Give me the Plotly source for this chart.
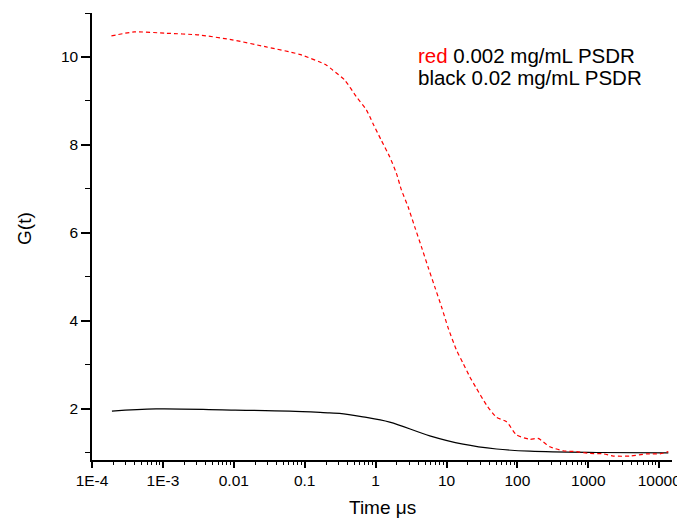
import plotly.graph_objects as go

# Red series: 0.002 mg/mL PSDR
red_t = [1.88e-4, 3.95e-4, 1.1e-3, 3.27e-3, 9.5e-3, 0.0286, 0.0845, 0.201, 0.249,
         0.365, 0.533, 0.74, 0.916, 1.2, 1.58, 1.96, 2.31, 2.86, 3.56, 4.42, 5.48,
         6.81, 8.47, 10.5, 13.8, 17.1, 21.3, 26.4, 36.6, 50.7, 70.2, 97.0, 150, 196,
         287, 442, 684, 1054, 1622, 2250, 3873, 6653, 10250, 13430]
red_g = [10.48, 10.57, 10.54, 10.50, 10.39, 10.23, 10.06, 9.82, 9.70,
         9.48, 9.10, 8.80, 8.49, 8.11, 7.73, 7.36, 6.98, 6.60, 6.14, 5.69, 5.23,
         4.78, 4.33, 3.85, 3.34, 3.04, 2.73, 2.47, 2.09, 1.81, 1.71, 1.41, 1.31, 1.33,
         1.14, 1.05, 1.03, 0.99, 0.98, 0.93, 0.93, 0.98, 0.98, 1.03]

# Black series: 0.02 mg/mL PSDR
black_t = [1.91e-4, 8.0e-4, 6.9e-3, 0.061, 0.224, 0.31, 0.662, 1.58, 5.8, 17.1,
           50.7, 150, 1310, 13430]
black_g = [1.95, 2.00, 1.98, 1.95, 1.91, 1.90, 1.82, 1.70, 1.39, 1.20,
           1.09, 1.04, 1.01, 1.00]

x_tickvals = [1e-4, 1e-3, 1e-2, 1e-1, 1, 10, 100, 1000, 10000]
x_ticktext = ["1E-4", "1E-3", "0.01", "0.1", "1", "10", "100", "1000", "10000"]
x_minor = [m * 10 ** e for e in range(-4, 5) for m in range(2, 10) if m * 10 ** e < 15000]
y_tickvals = [2, 4, 6, 8, 10]
y_minor = [1, 3, 5, 7, 9, 11]

FONT = "Liberation Sans, Arial, sans-serif"

fig = go.Figure()
fig.add_trace(go.Scatter(x=black_t, y=black_g, mode="lines",
                         line=dict(color="black", width=1.2, shape="spline"),
                         showlegend=False))
fig.add_trace(go.Scatter(x=red_t, y=red_g, mode="lines",
                         line=dict(color="red", width=1.2, dash="4px,3px", shape="spline", smoothing=0.6),
                         showlegend=False))

# The page body has an 8px margin, so the figure is sized to fill the rest of the window
fig.update_layout(
    width=677, height=511,
    margin=dict(l=84, r=13, t=5, b=59),
    paper_bgcolor="white", plot_bgcolor="white",
    font=dict(family=FONT, size=15.5, color="black"),
    xaxis=dict(type="log", range=[-4, 4.18], automargin=False,
               tickmode="array", tickvals=x_tickvals, ticktext=x_ticktext,
               ticks="outside", ticklen=6, tickwidth=1.5, tickcolor="black",
               minor=dict(tickmode="array", tickvals=x_minor, ticks="outside",
                          ticklen=3.5, tickwidth=1.2, tickcolor="black"),
               showline=True, linecolor="black", linewidth=1.5,
               showgrid=False, zeroline=False),
    yaxis=dict(range=[0.84, 11], automargin=False,
               tickmode="array", tickvals=y_tickvals,
               ticks="outside", ticklen=9, tickwidth=1.5, tickcolor="black",
               minor=dict(tickmode="array", tickvals=y_minor, ticks="outside",
                          ticklen=5, tickwidth=1.2, tickcolor="black"),
               showline=True, linecolor="black", linewidth=1.5,
               showgrid=False, zeroline=False),
)

# Axis titles
fig.add_annotation(xref="paper", yref="paper", x=0.5, y=-0.107, xanchor="center", yanchor="middle",
                   text="Time μs", showarrow=False, font=dict(size=19))
fig.add_annotation(xref="paper", yref="paper", x=-0.1155, y=0.517, xanchor="center", yanchor="middle",
                   text="G(t)", textangle=-90, showarrow=False, font=dict(size=19))

# Legend text
fig.add_annotation(xref="paper", yref="paper", x=0.5586, y=0.906, xanchor="left", yanchor="middle",
                   text="<span style='color:red'>red</span> 0.002 mg/mL PSDR",
                   showarrow=False, font=dict(size=20.5))
fig.add_annotation(xref="paper", yref="paper", x=0.5586, y=0.8546, xanchor="left", yanchor="middle",
                   text="black 0.02 mg/mL PSDR",
                   showarrow=False, font=dict(size=20.5))

fig.write_html("out.html")
